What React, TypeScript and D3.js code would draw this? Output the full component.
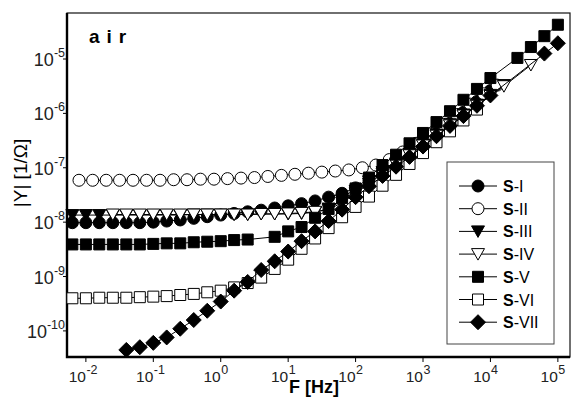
import React, { useRef, useEffect } from "react";
import * as d3 from "d3";

// frequency grid of the measurements, Hz
const freqs = [
  0.0063, 0.01, 0.0158, 0.0251, 0.0398, 0.0631, 0.1, 0.158, 0.251, 0.398, 0.631,
  1, 1.58, 2.51, 3.98, 6.31, 10, 15.8, 25.1, 39.8, 63.1, 100, 158, 251, 398, 631,
  1000, 1585, 2512, 3981, 6310, 10000, 15850, 25120, 39810, 63100, 100000,
];
// S-II was measured on a shifted grid
const freqsII = [
  0.0079, 0.0126, 0.02, 0.0316, 0.05, 0.0794, 0.126, 0.2, 0.316, 0.5, 0.794,
  1.26, 2, 3.16, 5, 7.94, 12.6, 20, 31.6, 50, 79.4, 126, 200, 316, 500, 794,
  1260, 2000, 3160, 5000, 7940, 12600,
];

// log10 |Y| per series (null = no point)
const sI = [
  -8.01, -8.01, -8.01, -8.01, -8.01, -8.01, -8.0, -7.98, -7.96, -7.93, -7.9,
  -7.87, -7.84, -7.81, -7.78, -7.74, -7.7, -7.66, -7.61, -7.54, -7.47, -7.37,
  -7.24, -7.08, -6.92, -6.74, -6.56, -6.37, -6.18, -5.98, -5.78, -5.58,
  null, null, null, null, null,
];
const sII = [
  -7.23, -7.23, -7.23, -7.23, -7.23, -7.23, -7.23, -7.22, -7.22, -7.21, -7.21,
  -7.2, -7.19, -7.18, -7.16, -7.14, -7.12, -7.1, -7.08, -7.06, -7.04, -7.0,
  -6.95, -6.85, -6.71, -6.55, -6.38, -6.2, -6.02, -5.83, -5.64, -5.48,
];
const sIII = [
  -7.87, -7.87, -7.87, -7.87, -7.87, -7.87, -7.87, -7.87, -7.87, -7.86, -7.86,
  -7.86, -7.86, -7.86, -7.85, -7.85, -7.85, -7.84, -7.82, -7.75, -7.6, -7.42,
  -7.25, -7.08, -6.92, -6.75, -6.57, -6.39, -6.2, -6.02, -5.84, -5.66, -5.48,
  null, null, null, null,
];
const sIV = [
  null, null, null, -7.86, -7.86, -7.86, -7.86, -7.86, -7.86, -7.86, -7.86,
  -7.86, -7.86, -7.86, -7.85, -7.85, -7.84, -7.83, -7.81, -7.77, -7.64, -7.47,
  -7.29, -7.11, -6.94, -6.77, -6.59, -6.41, -6.22, -6.04, -5.86, -5.68, -5.5,
  null, -5.11, null, null,
];
const sV = [
  -8.41, -8.41, -8.41, -8.41, -8.41, -8.41, -8.4, -8.39, -8.39, -8.37, -8.36,
  -8.35, -8.33, -8.32, null, -8.27, -8.17, -8.09, -7.92, -7.76, -7.56, -7.38,
  -7.18, -6.95, -6.76, -6.55, -6.36, -6.16, -5.96, -5.75, -5.55, -5.35,
  null, -4.98, -4.78, -4.58, -4.37,
];
const sVI = [
  -9.4, -9.4, -9.39, -9.39, -9.39, -9.38, -9.37, -9.36, -9.34, -9.32, -9.29,
  -9.26, -9.2, -9.12, -9.02, -8.86, -8.69, -8.49, -8.3, -8.11, -7.91, -7.72,
  -7.53, -7.33, -7.13, -6.93, -6.73, -6.53, -6.33, -6.13, -5.93,
  null, null, null, null, null, null,
];
const sVII = [
  null, null, null, null, -10.35, -10.3, -10.22, -10.12, -9.96, -9.8, -9.63,
  -9.46, -9.26, -9.1, -8.88, -8.72, -8.54, -8.35, -8.17, -7.98, -7.77, -7.54,
  -7.34, -7.15, -6.98, -6.8, -6.61, -6.42, -6.23, -6.05, -5.86, -5.67,
  null, null, null, -4.9, -4.71,
];

const seriesNames = ["I", "II", "III", "IV", "V", "VI", "VII"];
const xTickExps = [-2, -1, 0, 1, 2, 3, 4, 5];
const yTickExps = [-10, -9, -8, -7, -6, -5];

const markerPath = (shape) => {
  if (shape === "circle") return d3.symbol(d3.symbolCircle, Math.PI * 36)();
  if (shape === "triangle") return "M0,6L-6.5,-5.5L6.5,-5.5Z";
  if (shape === "square") return "M-5.5,-5.5H5.5V5.5H-5.5Z";
  return "M0,-7.5L7.5,0L0,7.5L-7.5,0Z";
};

const App = () => {
  const svgRef = useRef(null);

  useEffect(() => {
    const svg = d3.select(svgRef.current);
    svg.selectAll("*").remove();

    const W = 571, H = 398;
    const left = 67, right = 570, top = 13, bottom = 357;
    const font = "'Liberation Sans', Arial, sans-serif";

    svg.attr("width", W).attr("height", H).style("font-family", font);

    const x = d3.scaleLog().domain([10 ** -2.28, 10 ** 5.18]).range([left, right]);
    const y = d3.scaleLog().domain([10 ** -10.48, 10 ** -4.154]).range([bottom, top]);

    const series = [
      { name: seriesNames[0], f: freqs, v: sI, shape: "circle", filled: true },
      { name: seriesNames[1], f: freqsII, v: sII, shape: "circle", filled: false },
      { name: seriesNames[2], f: freqs, v: sIII, shape: "triangle", filled: true },
      { name: seriesNames[3], f: freqs, v: sIV, shape: "triangle", filled: false },
      { name: seriesNames[4], f: freqs, v: sV, shape: "square", filled: true },
      { name: seriesNames[5], f: freqs, v: sVI, shape: "square", filled: false },
      { name: seriesNames[6], f: freqs, v: sVII, shape: "diamond", filled: true },
    ];

    // frame: thin top/right, thick left/bottom
    svg.append("rect")
      .attr("x", left).attr("y", top)
      .attr("width", right - left).attr("height", bottom - top)
      .attr("fill", "white").attr("stroke", "#111").attr("stroke-width", 1.2);
    svg.append("path")
      .attr("d", `M${left},${top}V${bottom}H${right}`)
      .attr("fill", "none").attr("stroke", "#000").attr("stroke-width", 2.4);

    // ticks + labels
    xTickExps.forEach(e => {
      const px = x(10 ** e);
      svg.append("line").attr("x1", px).attr("x2", px)
        .attr("y1", bottom).attr("y2", bottom + 5).attr("stroke", "#000").attr("stroke-width", 1);
      svg.append("text").attr("x", px).attr("y", 382).attr("text-anchor", "end")
        .attr("font-size", 15.5).attr("fill", "#222").text("10");
      svg.append("text").attr("x", px + 0.5).attr("y", 374).attr("font-size", 12.5)
        .attr("fill", "#222").text(String(e));
    });
    yTickExps.forEach(e => {
      const py = y(10 ** e);
      svg.append("line").attr("x1", left - 4).attr("x2", left)
        .attr("y1", py).attr("y2", py).attr("stroke", "#000").attr("stroke-width", 1);
      const t = svg.append("text").attr("x", 65).attr("y", py + 7)
        .attr("text-anchor", "end").attr("font-size", 18).attr("fill", "#222");
      t.append("tspan").text("10");
      t.append("tspan").attr("dy", -9).attr("font-size", 12.5).text(String(e));
    });

    // series
    const line = d3.line().x(d => x(d[0])).y(d => y(10 ** d[1]));
    series.forEach(s => {
      const pts = s.f.map((f, i) => [f, s.v[i]]).filter(d => d[1] !== null && d[1] !== undefined);
      svg.append("path").datum(pts).attr("d", line)
        .attr("fill", "none").attr("stroke", "#000").attr("stroke-width", 1);
      svg.append("g").selectAll("path").data(pts).enter().append("path")
        .attr("d", markerPath(s.shape))
        .attr("transform", d => `translate(${x(d[0])},${y(10 ** d[1])})`)
        .attr("fill", s.filled ? "#000" : "#fff")
        .attr("stroke", "#000").attr("stroke-width", 1);
    });

    // legend
    const lx = 447, ly = 162;
    svg.append("rect").attr("x", lx).attr("y", ly).attr("width", 107).attr("height", 182)
      .attr("fill", "white").attr("stroke", "#444").attr("stroke-width", 1);
    series.forEach((s, i) => {
      const cy = 186 + i * 22.7;
      svg.append("line").attr("x1", 459).attr("x2", 497).attr("y1", cy).attr("y2", cy)
        .attr("stroke", "#000").attr("stroke-width", 1);
      svg.append("path").attr("d", markerPath(s.shape))
        .attr("transform", `translate(478,${cy})`)
        .attr("fill", s.filled ? "#000" : "#fff").attr("stroke", "#000");
      const t = svg.append("text").attr("x", 503).attr("y", cy + 6).attr("font-size", 16);
      t.append("tspan").attr("font-weight", "bold").text("S");
      t.append("tspan").text("-" + s.name);
    });

    // annotation + axis titles
    svg.append("text").attr("x", 89).attr("y", 43).attr("font-size", 19)
      .attr("font-weight", "bold").attr("letter-spacing", 7).text("air");
    svg.append("text").attr("x", 314).attr("y", 393).attr("text-anchor", "middle")
      .attr("font-size", 18).attr("font-weight", "bold").text("F [Hz]");
    svg.append("text").attr("transform", "translate(27,173) rotate(-90)")
      .attr("text-anchor", "middle").attr("font-size", 19).text("|Y| [1/Ω]");
  }, []);

  return <svg ref={svgRef} style={{ position: "absolute", left: 0, top: 0 }}></svg>;
};

export default App;
